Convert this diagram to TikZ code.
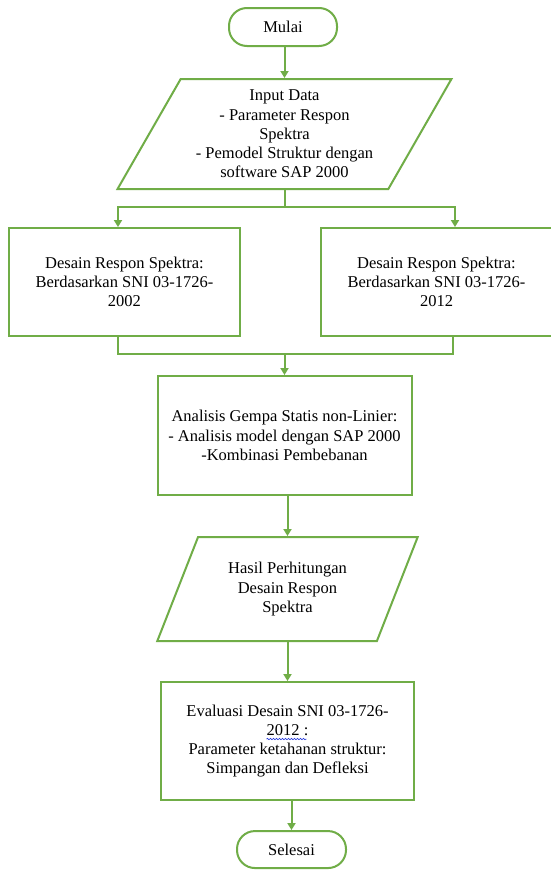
\documentclass[tikz,border=0pt]{standalone}
\usepackage{fontspec}
\setmainfont{Liberation Serif}
\usetikzlibrary{arrows.meta, positioning, shapes.geometric, decorations.pathmorphing}
\definecolor{fcgreen}{RGB}{112, 173, 71}
\definecolor{spellblue}{RGB}{40, 60, 220}

\begin{document}
\begin{tikzpicture}[
  x=1pt, y=1pt,
  terminal/.style={draw=fcgreen, line width=2pt, rounded corners=18pt,
                   minimum width=108pt, minimum height=38pt,
                   font=\fontsize{16.5}{19.2}\selectfont},
  io/.style={draw=fcgreen, line width=2pt, trapezium, trapezium stretches=true,
             trapezium left angle=59, trapezium right angle=121,
             align=center, inner sep=2pt, font=\fontsize{16.5}{19.2}\selectfont},
  proses/.style={draw=fcgreen, line width=2pt, rectangle, align=center,
                 minimum width=231pt, minimum height=108pt,
                 font=\fontsize{16.5}{19.2}\selectfont},
  arr/.style={-{Triangle[length=7pt, width=8pt]}, line width=2pt, color=fcgreen},
  garis/.style={line width=2pt, color=fcgreen},
  coretan/.style={spellblue, line width=0.6pt, decorate,
                  decoration={snake, amplitude=0.7pt, segment length=3pt}}
]
  \fill[white] (0,0) rectangle (551,-873);
  \useasboundingbox (0,0) rectangle (551,-873);

  \node[terminal] (mulai) at (283,-27) {Mulai};
  \node[io, below=31pt of mulai, xshift=1.5pt, minimum width=335pt, minimum height=110pt] (input)
       {Input Data\\- Parameter Respon\\Spektra\\- Pemodel Struktur dengan\\software SAP 2000};
  \node[proses, below=37pt of input, xshift=-160pt] (sni02)
       {Desain Respon Spektra:\\Berdasarkan SNI 03-1726-\\2002};
  \node[proses, below=37pt of input, xshift=152pt] (sni12)
       {Desain Respon Spektra:\\Berdasarkan SNI 03-1726-\\2012};
  \node[proses, below=185pt of input, minimum width=254pt, minimum height=119pt] (analisis)
       {Analisis Gempa Statis non-Linier:\\- Analisis model dengan SAP 2000\\-Kombinasi Pembebanan};
  \node[io, below=40pt of analisis, xshift=3pt, trapezium left angle=64, trapezium right angle=116,
        minimum width=261pt, minimum height=104pt] (hasil)
       {Hasil Perhitungan\\Desain Respon\\Spektra};
  \node[proses, below=39pt of hasil, minimum width=253pt, minimum height=118pt] (evaluasi)
       {Evaluasi Desain SNI 03-1726-\\2012 :\\Parameter ketahanan struktur:\\Simpangan dan Defleksi};
  \node[terminal, below=29pt of evaluasi, xshift=4pt, minimum width=109pt, minimum height=37pt] (selesai) {Selesai};

  \coordinate[below=17pt of input.south] (split);
  \coordinate[yshift=-17pt] (merge) at (input.south |- sni02.south);

  \draw[arr] (input.north |- mulai.south) -- (input.north);
  \draw[garis] (input.south) -- (split);
  \draw[arr] (split) -| ([xshift=-6.5pt]sni02.north);
  \draw[arr] (split) -| ([xshift=18.5pt]sni12.north);
  \draw[garis] ([xshift=-6.5pt]sni02.south) |- (merge) -| ([xshift=16.5pt]sni12.south);
  \draw[arr] (merge) -- (analisis);
  \draw[arr] (hasil.north |- analisis.south) -- (hasil.north);
  \draw[arr] (hasil.south) -- (evaluasi.north);
  \draw[arr] (selesai.north |- evaluasi.south) -- (selesai.north);

  % garis ejaan di bawah "2012 :"
  \draw[coretan] ([xshift=-21pt, yshift=2pt]evaluasi.center) -- ([xshift=19pt, yshift=2pt]evaluasi.center);
\end{tikzpicture}
\end{document}
